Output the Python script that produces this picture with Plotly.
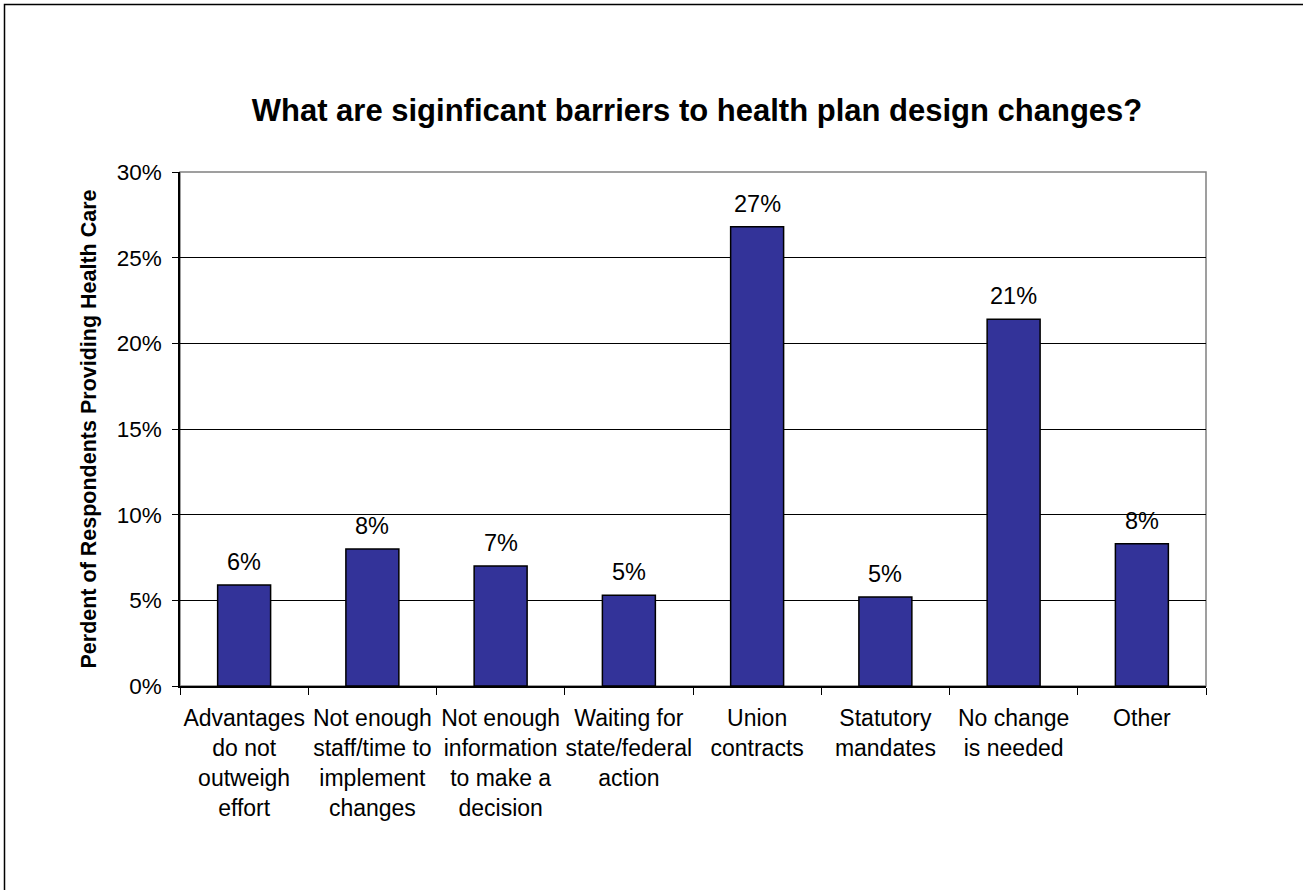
import plotly.graph_objects as go

categories = [
    "Advantages<br>do not<br>outweigh<br>effort",
    "Not enough<br>staff/time to<br>implement<br>changes",
    "Not enough<br>information<br>to make a<br>decision",
    "Waiting for<br>state/federal<br>action",
    "Union<br>contracts",
    "Statutory<br>mandates",
    "No change<br>is needed",
    "Other",
]
values = [5.9, 8.0, 7.0, 5.3, 26.8, 5.2, 21.4, 8.3]
y_ticks = [0, 5, 10, 15, 20, 25, 30]
y_tick_labels = ["0%", "5%", "10%", "15%", "20%", "25%", "30%"]

FONT = "Arial, 'Liberation Sans', sans-serif"

fig = go.Figure()
fig.add_trace(go.Bar(
    x=categories,
    y=values,
    marker=dict(color="#333399", line=dict(color="#000000", width=1.5)),
    hoverinfo="skip",
))

for c, v in zip(categories, values):
    fig.add_annotation(
        x=c, y=v, xref="x", yref="y",
        text=f"{v:.0f}%", showarrow=False,
        yanchor="bottom", yshift=8,
        font=dict(family=FONT, size=23.5, color="#000000"),
    )

L, R, T, B = 180, 97, 172, 204
W, H = 1303, 890
pw, ph = W - L - R, H - T - B

def px_x(p):
    return (p - L) / pw

def px_y(p):
    return (H - B - p) / ph

# outer frame
fig.add_shape(type="rect", xref="paper", yref="paper",
              x0=px_x(4.5), x1=px_x(1320), y0=px_y(900), y1=px_y(4.5),
              line=dict(color="#000000", width=1.5), layer="below")
# plot area border (gray)
fig.add_shape(type="rect", xref="paper", yref="paper",
              x0=0, x1=1, y0=0, y1=1,
              line=dict(color="#808080", width=1.5), layer="below")

fig.update_layout(
    width=W, height=H,
    margin=dict(l=L, r=R, t=T, b=B, pad=0),
    paper_bgcolor="#ffffff",
    plot_bgcolor="#ffffff",
    bargap=0.587,
    showlegend=False,
    font=dict(family=FONT, color="#000000"),
    title=dict(
        text="<b>What are siginficant barriers to health plan design changes?</b>",
        font=dict(family=FONT, size=31, color="#000000"),
        x=px_x(697), xanchor="center", xref="paper",
        y=1 - 110 / H, yanchor="middle", yref="container",
    ),
    xaxis=dict(
        type="category",
        tickson="boundaries",
        ticks="outside", ticklen=7, tickcolor="#000000", tickwidth=1,
        showline=True, linecolor="#000000", linewidth=1.5,
        showgrid=False,
        tickfont=dict(family=FONT, size=23, color="#000000"),
        tickangle=0,
        ticklabelstandoff=11,
    ),
    yaxis=dict(
        range=[0, 30],
        tickvals=y_ticks, ticktext=y_tick_labels,
        ticks="outside", ticklen=6, tickcolor="#000000", tickwidth=1,
        showline=True, linecolor="#000000", linewidth=1.5,
        showgrid=True, gridcolor="#000000", gridwidth=1,
        zeroline=False,
        tickfont=dict(family=FONT, size=22.5, color="#000000"),
        ticklabelstandoff=6,
        title=dict(
            text="<b>Perdent of Respondents Providing Health Care</b>",
            font=dict(family=FONT, size=21.5, color="#000000"),
            standoff=14,
        ),
    ),
)

fig.write_html("out.html")
